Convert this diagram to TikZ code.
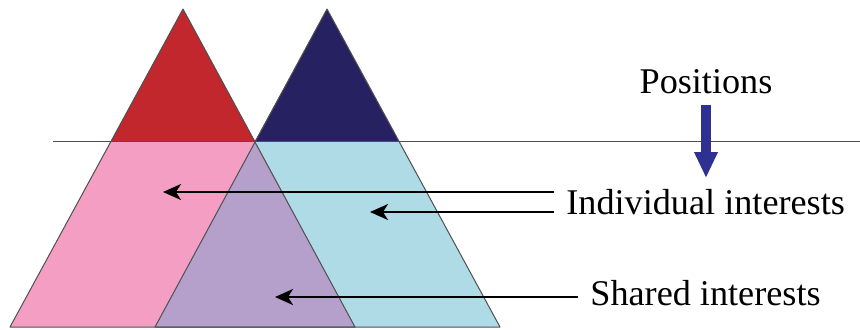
\documentclass[tikz,border=0pt]{standalone}
\usepackage{fontspec}
\setmainfont{Liberation Serif}
\usetikzlibrary{arrows.meta,positioning}
\definecolor{topred}{HTML}{C1272D}
\definecolor{topnavy}{HTML}{262262}
\definecolor{pinkint}{HTML}{F49EC4}
\definecolor{blueint}{HTML}{AEDBE6}
\definecolor{sharedint}{HTML}{B59FCB}
\definecolor{posblue}{HTML}{2E3192}
\definecolor{edge}{HTML}{505050}

\begin{document}
\begin{tikzpicture}[x=0.5pt, y=-0.5pt,
  >=Stealth,
  tri/.style={draw=edge, line width=0.5pt, line join=round},
  lbl/.style={font=\fontsize{18.1}{20}\selectfont, text=black, inner sep=6pt, anchor=west},
  ptr/.style={-{Stealth[length=9pt,width=8pt,inset=2.5pt]}, line width=1pt, black},
]
\useasboundingbox (0,0) rectangle (860,329);

% lower halves and the overlap
\fill[pinkint] (111,141) -- (255,141) -- (355,327) -- (10,327) -- cycle;
\fill[blueint] (255,141) -- (399,141) -- (500,327) -- (155,327) -- cycle;
\fill[sharedint] (255,141) -- (355,327) -- (155,327) -- cycle;

% tops above the line
\fill[topred] (183,9) -- (255,141) -- (111,141) -- cycle;
\fill[topnavy] (327,9) -- (399,141) -- (255,141) -- cycle;

\draw[tri] (183,9) -- (355,327) -- (10,327) -- cycle;
\draw[tri] (327,9) -- (500,327) -- (155,327) -- cycle;
\draw[edge, line width=0.5pt] (53,141) -- (860,141);

\node[lbl, anchor=center, inner sep=5pt] (pos) at (706,82) {Positions};
\node[lbl] (indiv) at (554,202) {Individual interests};
\node[lbl] (shrd) at (578,293) {Shared interests};

\coordinate (postip) at (706,178);
\coordinate (pinkpt) at (163,192);
\coordinate (bluept) at (370,212);
\coordinate (purplept) at (275,297);

\draw[posblue, line width=5pt, -{Triangle[length=13pt,width=11pt]}] (pos.south) -- (postip);
\draw[ptr] (indiv.west |- pinkpt) -- (pinkpt);
\draw[ptr] (indiv.west |- bluept) -- (bluept);
\draw[ptr] (shrd.west |- purplept) -- (purplept);

\end{tikzpicture}
\end{document}
